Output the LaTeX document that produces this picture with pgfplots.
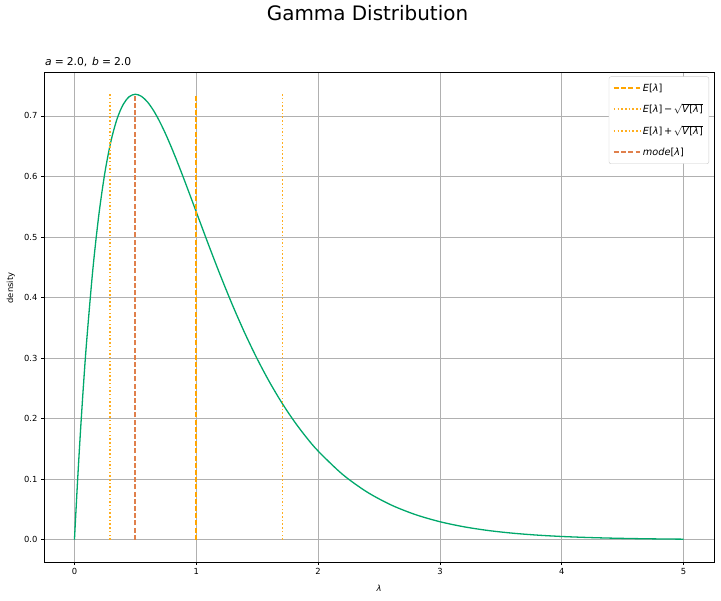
\documentclass[border=0pt]{standalone}
\usepackage{pgfplots}
\pgfplotsset{compat=1.18}
\usepackage{fontspec}
\setmainfont{DejaVu Sans}
\definecolor{curvec}{RGB}{0,168,107}
\definecolor{eorange}{RGB}{255,165,0}
\definecolor{sdorange}{RGB}{255,174,31}
\definecolor{mcol}{RGB}{224,128,76}
\definecolor{gridc}{RGB}{176,176,176}
\definecolor{legc}{RGB}{204,204,204}
\begin{document}
\begin{tikzpicture}[x=1bp,y=1bp]
\useasboundingbox (0,0) rectangle (721,601);
\begin{axis}[
  at={(44bp,39bp)}, anchor=south west,
  scale only axis, width=670bp, height=490bp,
  xmin=-0.25, xmax=5.25, ymin=-0.036788, ymax=0.772547,
  xtick={0,1,2,3,4,5},
  ytick={0,0.1,0.2,0.3,0.4,0.5,0.6,0.7},
  yticklabel style={/pgf/number format/fixed,/pgf/number format/fixed zerofill,/pgf/number format/precision=1},
  /pgf/number format/assume math mode=true,
  ticklabel style={font=\fontsize{8.4}{10}\selectfont},
  tick pos=left, tick align=outside, major tick length=3bp,
  tick style={black, line width=0.7bp},
  axis line style={black, line width=0.8bp},
  grid=major, grid style={gridc, line width=0.7bp},
  legend image code/.code={\draw[#1] (0bp,0bp) -- (21bp,0bp); \path (0bp,0bp) -- (26bp,0bp);},
  legend style={at={(1,1)}, anchor=north east, xshift=-5bp, yshift=-4.5bp,
    draw=legc, rounded corners=2bp, fill=white,
    font=\fontsize{9.8}{11.5}\selectfont, cells={anchor=west}, row sep=7.5bp,
    inner xsep=4bp, inner ysep=5bp},
  legend cell align=left,
  clip=false,
]
\addplot[curvec, line width=1.3bp, smooth, forget plot] table {
x y
0 0
0.025 0.095123
0.05 0.180967
0.075 0.258212
0.1 0.327492
0.15 0.444491
0.2 0.536256
0.25 0.606531
0.3 0.658574
0.35 0.695219
0.4 0.718926
0.45 0.731826
0.5 0.735759
0.55 0.732316
0.6 0.722866
0.65 0.708583
0.7 0.690472
0.75 0.669390
0.8 0.646070
0.85 0.621126
0.9 0.595076
0.95 0.568362
1.0 0.541341
1.1 0.487533
1.2 0.435446
1.3 0.386225
1.4 0.340536
1.5 0.298722
1.6 0.260877
1.7 0.226936
1.8 0.196733
1.9 0.170020
2.0 0.146525
2.2 0.108038
2.4 0.079005
2.6 0.057373
2.8 0.041417
3.0 0.029745
3.2 0.021268
3.4 0.015148
3.6 0.010751
3.8 0.007607
4.0 0.005367
4.2 0.003778
4.4 0.002653
4.6 0.001859
4.8 0.001300
5.0 0.000908
};
\addplot[draw=eorange, line width=1.9bp, dash pattern=on 5bp off 2.2bp] coordinates {(1,0) (1,0.735759)};
\addlegendentry{\textit{E}[\textit{λ}]}
\addplot[draw=sdorange, line width=1.7bp, dash pattern=on 1.5bp off 2.2bp] coordinates {(0.292893,0) (0.292893,0.735759)};
\addlegendentry{\textit{E}[\textit{λ}]\,−\,$\sqrt{\mbox{\textit{V}[\textit{λ}]}}$}
\addplot[draw=sdorange, line width=1.7bp, dash pattern=on 1.5bp off 2.2bp] coordinates {(1.707107,0) (1.707107,0.735759)};
\addlegendentry{\textit{E}[\textit{λ}]\,+\,$\sqrt{\mbox{\textit{V}[\textit{λ}]}}$}
\addplot[draw=mcol, line width=1.9bp, dash pattern=on 5bp off 2.2bp] coordinates {(0.5,0) (0.5,0.735759)};
\addlegendentry{\textit{mode}[\textit{λ}]}
\end{axis}
\node[anchor=base, font=\fontsize{20}{24}\selectfont] at (367.5,580) {Gamma Distribution};
\node[anchor=base west, font=\fontsize{10.8}{12}\selectfont, inner sep=0pt] at (45,535) {\textit{a}\hspace{0.28em}=\hspace{0.28em}2.0,\hspace{0.45em}\textit{b}\hspace{0.28em}=\hspace{0.28em}2.0};
\node[anchor=base, font=\fontsize{8.4}{10}\selectfont, inner sep=0pt] at (379,9) {\textit{λ}};
\node[anchor=base, rotate=90, font=\fontsize{8.4}{10}\selectfont, inner sep=0pt] at (13,313) {density};
\end{tikzpicture}
\end{document}
